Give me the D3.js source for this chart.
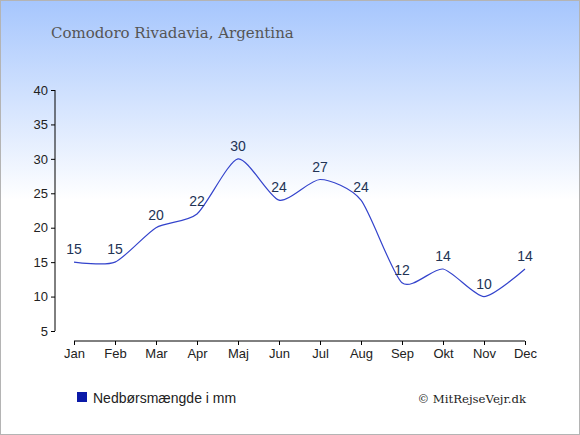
<!DOCTYPE html>
<html>
<head>
<meta charset="utf-8">
<script src="https://cdn.jsdelivr.net/npm/d3@7"></script>
<style>
  body { margin: 0; }
  svg { display: block; }
</style>
</head>
<body>
<svg id="chart" width="580" height="435"></svg>
<script>
const months = ['Jan', 'Feb', 'Mar', 'Apr', 'Maj', 'Jun', 'Jul', 'Aug', 'Sep', 'Okt', 'Nov', 'Dec']
const rain = [15, 15, 20, 22, 30, 24, 27, 24, 12, 14, 10, 14]
const yTicks = [5, 10, 15, 20, 25, 30, 35, 40]

const svg = d3.select('#chart')
const width = 580
const height = 435

// background gradient
const defs = svg.append('defs')
const grad = defs.append('linearGradient')
  .attr('id', 'bg').attr('x1', 0).attr('y1', 0).attr('x2', 0).attr('y2', 1)
grad.append('stop').attr('offset', '0%').attr('stop-color', '#a6c6fd')
grad.append('stop').attr('offset', '46%').attr('stop-color', '#ffffff')
grad.append('stop').attr('offset', '100%').attr('stop-color', '#ffffff')

svg.append('rect')
  .attr('x', 0.5).attr('y', 0.5)
  .attr('width', width - 1).attr('height', height - 1)
  .attr('fill', 'url(#bg)')
  .attr('stroke', '#b4b4b4')

const xScale = d3.scalePoint().domain(months).range([74, 525])
const yScale = d3.scaleLinear().domain([5, 40]).range([331, 90])

// y axis
const yAxis = d3.axisLeft(yScale).tickValues(yTicks).tickSize(4).tickPadding(3)
const gy = svg.append('g').attr('transform', 'translate(55,0)').call(yAxis)
gy.select('.domain').attr('d', 'M0,90V331')

// x axis
const xAxis = d3.axisBottom(xScale).tickSize(4).tickPadding(4)
const gx = svg.append('g').attr('transform', 'translate(0,341)').call(xAxis)
gx.select('.domain').attr('d', 'M74,0H525')

svg.selectAll('.tick text')
  .style('font-family', 'Liberation Sans, Arial, sans-serif')
  .style('font-size', '13px')
  .attr('fill', '#222')
svg.selectAll('.domain, .tick line').attr('stroke', '#000')

// line
const line = d3.line()
  .x((d, i) => xScale(months[i]))
  .y(d => yScale(d))
  .curve(d3.curveCardinal.tension(0.3))

svg.append('path')
  .datum(rain)
  .attr('d', line)
  .attr('fill', 'none')
  .attr('stroke', '#3343cc')
  .attr('stroke-width', 1.2)

svg.selectAll('.val')
  .data(rain)
  .enter()
  .append('text')
  .attr('class', 'val')
  .attr('x', (d, i) => xScale(months[i]))
  .attr('y', d => yScale(d) - 8)
  .attr('text-anchor', 'middle')
  .style('font-family', 'Liberation Sans, Arial, sans-serif')
  .style('font-size', '14px')
  .attr('fill', '#223355')
  .text(d => d)

// title
svg.append('text')
  .attr('x', 51).attr('y', 38)
  .style('font-family', 'DejaVu Serif, Georgia, serif')
  .style('font-size', '15px')
  .attr('fill', '#555')
  .text('Comodoro Rivadavia, Argentina')

// legend
svg.append('rect')
  .attr('x', 77).attr('y', 392).attr('width', 10).attr('height', 10)
  .attr('fill', '#0b1aa8')
svg.append('text')
  .attr('x', 93).attr('y', 403)
  .style('font-family', 'Liberation Sans, Arial, sans-serif')
  .style('font-size', '14px')
  .attr('fill', '#222')
  .text('Nedbørsmængde i mm')

svg.append('text')
  .attr('x', 526).attr('y', 403)
  .attr('text-anchor', 'end')
  .style('font-family', 'DejaVu Serif, Georgia, serif')
  .style('font-size', '11.7px')
  .attr('fill', '#222')
  .text('© MitRejseVejr.dk')
</script>
</body>
</html>
